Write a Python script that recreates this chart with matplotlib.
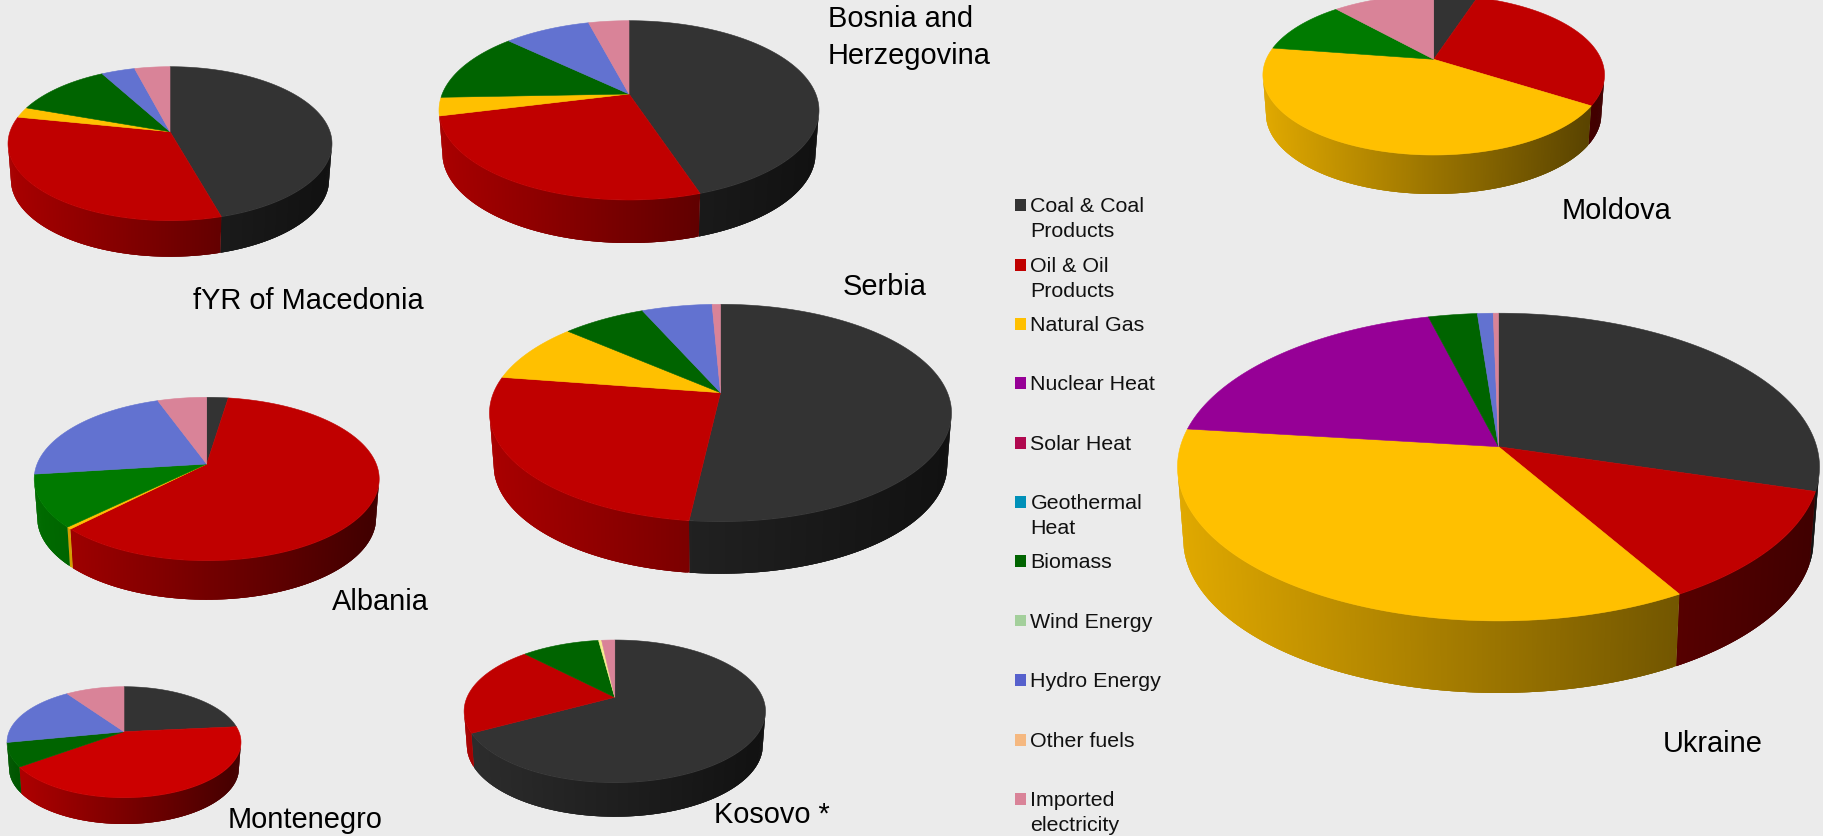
import numpy as np
import matplotlib
matplotlib.use("Agg")
import matplotlib.pyplot as plt
from matplotlib.patches import Rectangle, Polygon
from matplotlib.colors import to_rgb

W, H = 1824, 836
BG = "#EBEBEB"

categories = ["Coal & Coal\nProducts", "Oil & Oil\nProducts", "Natural Gas", "Nuclear Heat",
              "Solar Heat", "Geothermal\nHeat", "Biomass", "Wind Energy", "Hydro Energy",
              "Other fuels", "Imported\nelectricity"]
colors = ["#333333", "#C00000", "#FFC000", "#960096", "#B0084F", "#0090B8",
          "#006400", "#A3CF9B", "#6272D0", "#F5B880", "#D98398"]
legend_colors = ["#333333", "#C00000", "#FFC000", "#960096", "#B0084F", "#0090B8",
                 "#006400", "#A3CF9B", "#5660CC", "#F5B880", "#D98398"]

macedonia = [45.6, 32.6, 2.2, 0, 0, 0, 11.6, 0, 3.9, 0, 4.1]
bosnia = [44.9, 26.2, 3.3, 0, 0, 0, 12.7, 0, 8.8, 0, 4.1]
serbia = [51.8, 25.6, 9.0, 0, 0, 0, 7.0, 0, 5.9, 0, 0.7]
albania = [2.4, 59.9, 0.4, 0, 0, 0, 10.3, 0, 21.5, 0, 5.5]
montenegro = [23.5, 41.5, 0, 0, 0, 0, 6.9, 0, 18.4, 0, 9.7]
kosovo = [67.1, 20.7, 0, 0, 0, 0, 10.1, 0, 0, 0.4, 1.7]
moldova = [5.0, 29.1, 43.3, 0, 0, 0, 11.0, 0, 0, 0, 11.6]
ukraine = [29.6, 12.0, 35.3, 19.1, 0, 0, 2.8, 0, 0.9, 0, 0.3]

# layout: centre x, apex y, top y, front y, half width, wall depth, colour overrides
pies = [
    (macedonia, dict(cx=170, apex=131.7, top=66.7, front=220.7, rx=162, depth=36)),
    (bosnia, dict(cx=629, apex=94, top=20.7, front=200, rx=190, depth=43)),
    (serbia, dict(cx=720.5, apex=392.7, top=304.3, front=521.7, rx=231, depth=52)),
    (albania, dict(cx=206.7, apex=464, top=397.3, front=560.7, rx=172.5, depth=39,
                   over={6: "#007A00"})),
    (montenegro, dict(cx=124, apex=731.7, top=686.7, front=797.7, rx=117, depth=26.3,
                      over={1: "#CC0000"})),
    (kosovo, dict(cx=614.8, apex=697.3, top=640, front=782.7, rx=150.7, depth=34,
                  over={9: "#F5EE90"})),
    (moldova, dict(cx=1433.7, apex=59.3, top=-5, front=155, rx=170.8, depth=39,
                   over={6: "#007A00"})),
    (ukraine, dict(cx=1498.5, apex=446.7, top=313.2, front=620.9, rx=321, depth=72)),
]

labels = [
    ("Bosnia and\nHerzegovina", 828, 37.5, "left"),
    ("Moldova", 1617, 211, "center"),
    ("fYR of Macedonia", 308, 301, "center"),
    ("Serbia", 885, 287, "center"),
    ("Albania", 380, 602, "center"),
    ("Ukraine", 1713, 744, "center"),
    ("Montenegro", 305, 820, "center"),
    ("Kosovo *", 772, 815, "center"),
]
legend_y = [205.2, 265, 324, 383, 443, 502, 561, 620.5, 680, 740, 799]

plt.rcParams["font.family"] = ["Liberation Sans", "DejaVu Sans"]
fig = plt.figure(figsize=(W / 100, H / 100), dpi=100, facecolor=BG)
ax = fig.add_axes([0, 0, 1, 1])
ax.set_xlim(0, W)
ax.set_ylim(H, 0)
ax.axis("off")


def draw_pie(values, cx, apex, top, front, rx, depth, over=None):
    over = over or {}
    up, down = apex - top, front - apex
    k = (down - up) / (down + up)
    b = up * (1 + k)
    a = rx * np.sqrt(1 - k * k)

    def rim(theta):
        u, v = np.sin(theta), np.cos(theta)
        w = 1 + k * v
        return a * u / w, b * v / w

    vals = np.asarray(values, float)
    edges = np.concatenate([[0], np.cumsum(vals) / vals.sum()]) * 2 * np.pi
    left = cx - rx
    scale = 0.982
    limit = -k - 0.06
    for i, col in enumerate(colors):
        if vals[i] <= 0:
            continue
        col = to_rgb(over.get(i, col))
        th = np.linspace(edges[i], edges[i + 1], max(4, int((edges[i + 1] - edges[i]) / 0.006)))
        th = th[np.cos(th) <= limit]
        if len(th) < 2:
            continue
        X, Y = rim(th)
        for j in range(len(th) - 1):
            e = min(j + 3, len(th) - 1)  # overlap the next strips so no seams show
            x0, x1 = cx + X[j], cx + X[e]
            y0, y1 = apex - Y[j], apex - Y[e]
            mid = j + 1
            pts = [(x0, y0), (cx + X[mid], apex - Y[mid]), (x1, y1),
                   (cx + scale * X[e], y1 + depth),
                   (cx + scale * X[mid], apex - Y[mid] + depth),
                   (cx + scale * X[j], y0 + depth)]
            t = (cx + X[j] - left) / (2 * rx)
            f = 0.88 - 0.55 * t
            ax.add_patch(Polygon(pts, closed=True, facecolor=tuple(c * f for c in col),
                                 edgecolor="none", linewidth=0, zorder=2))
    for i, col in enumerate(colors):
        if vals[i] <= 0:
            continue
        n = max(3, int((edges[i + 1] - edges[i]) / 0.01))
        th = np.linspace(edges[i], edges[i + 1], n)
        X, Y = rim(th)
        px = np.concatenate([[cx], cx + X])
        py = np.concatenate([[apex], apex - Y])
        c = over.get(i, col)
        ax.fill(px, py, facecolor=c, edgecolor=c, linewidth=0.4, zorder=3)


for vals, geo in pies:
    draw_pie(vals, **geo)

for text, x, y, ha in labels:
    ax.text(x, y, text, fontsize=20.9, ha=ha, va="center", color="black",
            linespacing=1.42, zorder=5)

for name, col, y in zip(categories, legend_colors, legend_y):
    ax.add_patch(Rectangle((1015, y - 5.8), 11.3, 11.6, facecolor=col, edgecolor="none", zorder=5))
    ax.text(1030.5, y - 8, name, fontsize=15.4, ha="left", va="top", color="#111111",
            linespacing=1.38, zorder=5)

fig.savefig("out.png", dpi=100, facecolor=BG)
